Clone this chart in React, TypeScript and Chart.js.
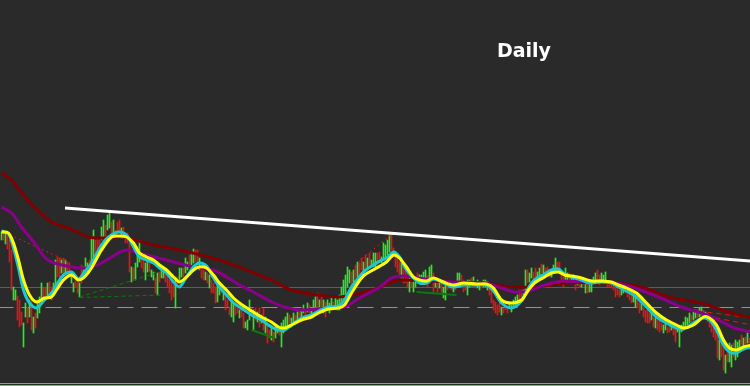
import React, { useEffect, useRef } from "react";
import { Chart, registerables } from "chart.js";

Chart.register(...registerables);

// Price-like units: the value axis is flipped, so a larger number sits lower on the chart.
const TITLE = "Daily";

// Daily bars: high (upper end) and low (lower end), 1 = up bar, 0 = down bar
const highs: number[] = [
  232,231,233,233,240,250,287,290,296,300,312,323,303,307,300,300,317,313,300,297,
  283,288,287,283,282,288,283,260,257,258,260,258,260,262,263,273,283,277,280,283,
  265,267,258,263,260,237,230,240,238,240,227,220,225,215,213,222,220,230,222,220,
  228,227,233,
  233,243,267,268,263,247,242,253,258,263,258,263,270,272,278,273,272,270,268,272,
  273,280,282,285,277,277,268,268,268,258,262,255,252,249,250,250,258,265,267,272,
  273,275,280,283,287,285,287,287,290,295,300,307,300,303,300,307,310,308,313,322,
  320,
  300,308,310,308,312,308,315,308,317,325,330,325,332,327,325,327,323,320,317,313,
  315,318,313,315,312,310,310,305,310,303,305,308,300,297,293,300,297,300,302,300,
  303,298,302,297,300,295,287,280,275,267,270,272,270,265,262,263,258,262,255,258,
  253,260,253,
  253,253,252,257,243,245,240,235,233,248,253,258,262,263,267,270,273,278,277,282,
  280,273,275,275,272,270,275,267,265,273,280,278,280,280,287,283,282,282,283,287,
  282,273,273,275,280,283,280,280,278,277,282,280,282,282,280,280,282,285,290,300,
  302,305,303,
  307,308,305,307,303,305,300,297,295,290,290,290,270,270,273,268,272,268,272,268,
  264,265,268,267,270,270,265,258,262,262,272,277,268,273,273,275,275,280,277,278,
  280,278,280,283,285,283,277,273,270,275,273,275,272,282,282,283,285,287,287,290,
  290,288,287,
  288,290,292,293,297,298,300,303,307,310,310,313,313,317,318,320,320,323,325,323,
  327,325,323,325,327,325,330,325,322,317,318,313,315,312,310,310,308,307,310,312,
  313,315,317,323,325,332,340,340,343,355,348,343,345,343,340,342,340,335,338,337,
  333,338,
];

const lows: number[] = [
  240,240,244,249,262,290,300,300,320,327,325,347,317,323,317,330,333,328,318,313,
  300,298,300,297,297,300,293,287,277,277,273,277,273,275,277,283,292,287,293,297,
  283,277,277,273,267,267,257,258,250,253,240,237,238,230,228,237,233,237,233,233,
  238,238,243,
  243,272,282,280,280,267,262,268,272,280,272,272,277,280,293,295,282,278,278,282,
  287,293,300,297,308,287,280,277,277,273,270,267,265,263,262,265,270,278,280,280,
  283,288,293,293,303,302,295,293,300,310,307,315,317,322,315,313,318,317,328,328,
  330,
  320,317,330,320,322,327,323,330,333,343,338,340,342,338,333,335,347,333,327,327,
  323,327,322,323,320,317,318,313,320,312,313,317,310,307,307,310,307,313,317,310,
  313,310,310,308,310,310,303,300,295,287,283,287,282,278,277,275,270,272,268,268,
  265,267,267,
  267,265,263,263,260,257,255,252,250,257,267,272,275,278,283,283,288,292,287,292,
  287,283,283,282,282,280,287,283,277,292,287,292,288,292,298,300,290,288,290,292,
  290,283,287,283,292,290,295,287,285,285,288,288,290,288,287,287,290,295,303,310,
  313,315,312,
  315,313,310,313,308,312,307,305,302,300,298,297,293,283,282,278,282,277,278,275,
  273,273,275,273,277,277,273,272,268,273,282,287,280,283,280,282,282,290,285,287,
  287,285,293,293,292,292,283,282,283,285,280,282,280,287,287,288,290,297,295,297,
  295,293,293,
  297,300,303,302,307,308,313,310,317,322,323,323,320,327,328,330,332,330,333,330,
  333,332,330,335,342,332,347,332,328,327,325,323,322,320,318,318,317,315,317,318,
  322,327,332,337,340,358,360,357,370,373,362,362,367,357,360,357,352,345,350,348,
  343,348,
];

const ups: number[] = [
  1,0,1,0,0,0,1,1,0,0, 0,1,1,0,1,0,1,0,1,1, 1,0,0,1,0,0,1,1,0,0, 1,0,1,0,0,1,1,0,0,1,
  0,1,1,1,0,1,1,0,0,0, 1,1,0,1,1,0,1,0,0,0, 1,0,0,
  0,0,1,0,1,1,1,0,0,1, 1,0,1,1,0,1,0,1,1,0, 0,0,0,0,1,0,1,1,0,1, 1,0,1,1,0,0,1,0,0,1,
  0,1,0,0,0,1,1,0,1,0, 0,0,1,1,0,0,1,0,0,1, 1,
  1,0,1,0,1,0,1,0,1,0, 0,1,0,1,1,0,1,1,1,1, 0,1,1,0,1,0,1,1,0,1, 0,1,1,1,0,1,0,1,0,1,
  1,1,0,1,1,1,1,1,1,1, 1,0,1,0,1,0,0,1,0,1, 0,1,1,
  1,0,0,1,1,1,1,1,0,0, 0,0,0,1,0,0,0,1,0,1, 1,0,1,1,1,1,0,1,1,0, 1,0,1,0,1,1,0,1,0,1,
  0,1,1,0,0,0,1,1,0,1, 0,1,1,0,1,1,1,0,0,0, 0,0,0,
  1,0,0,0,1,1,1,1,1,0, 0,1,1,0,1,1,0,0,1,1, 0,1,0,0,0,1,1,1,0,0, 0,0,1,1,0,1,1,0,1,0,
  1,0,1,0,1,1,1,1,0,0, 1,1,1,0,0,0,0,0,0,0, 1,1,0,
  0,0,0,1,1,0,0,1,0,0, 0,0,1,0,1,0,0,0,1,1, 0,0,1,0,0,1,1,1,1,1, 1,1,0,1,1,0,1,1,0,1,
  0,0,0,0,0,0,1,0,0,1, 0,1,1,0,1,1,1,0,1,0, 1,0,
];

// Moving averages: [bar index, value]
const maYellow: [number, number][] = [
  [0,232],[3.5,233],[6,243],[8.5,260],[11,280],[14,295],[17.5,302],[21.5,298],[25,297],[27.5,290],
  [31,280],[35,275],[38.5,280],[41.5,277],[45,268],[50,250],[55,237],[58.5,236],[62.5,237],[66,243],
  [69,253],[72.5,257],[76,260],[79,265],[82.5,270],[86,277],[89,282],[92.5,277],[96,270],[99,267],
  [102.5,268],[106,275],[109,283],[112.5,290],[116,298],[119,303],[125,311],[130,317],[135,322],[138.5,327],
  [141.5,328],[145,325],[150,320],[155,317],[158.5,313],[163.5,309],[168.5,308],[171.5,305],[175,293],[178.5,282],
  [181.5,275],[187.5,268],[192.5,262],[196,255],[199,258],[202.5,267],[206,277],[209,280],[212.5,281],[216,278],
  [221,282],[226,285],[231,283],[237.5,284],[242.5,284],[246,288],[250,300],[255,303],[260,300],[263.5,290],
  [266.5,283],[271.5,277],[275,273],[278.5,272],[281.5,275],[285,276],[290,278],[295,281],[300,281],[305,282],
  [308.5,285],[312.5,288],[317.5,293],[322.5,303],[327.5,313],[332.5,320],[337.5,325],[341,328],[346,325],[351,317],
  [354,318],[357.5,325],[361,340],[364,348],[367.5,350],[371,347],[375,345],
];

const maCyan: [number, number][] = [
  [0,231],[3.5,234],[6,248],[8.5,268],[11,290],[14,303],[17.5,308],[21.5,300],[25,293],[27.5,285],
  [31,275],[35,272],[38.5,279],[41.5,272],[45,263],[50,245],[53.5,237],[58.5,232],[62.5,235],[66,247],
  [69,257],[72.5,260],[76,263],[79,268],[82.5,273],[86,282],[89,287],[92.5,277],[96,267],[99,263],
  [102.5,266],[106,278],[109,287],[112.5,295],[116,303],[119,307],[125,315],[130,320],[135,327],[138.5,330],
  [141.5,330],[145,325],[150,318],[155,315],[158.5,311],[163.5,307],[168.5,306],[171.5,300],[175,287],[178.5,278],
  [181.5,271],[187.5,263],[192.5,258],[196,252],[199,257],[202.5,270],[206,278],[209,283],[212.5,283],[216,279],
  [221,283],[226,287],[231,285],[237.5,285],[242.5,285],[246,291],[250,303],[255,308],[260,301],[263.5,288],
  [266.5,280],[271.5,274],[275,270],[278.5,269],[281.5,274],[285,277],[290,280],[293.5,283],[300,282],[305,283],
  [308.5,287],[312.5,291],[317.5,297],[322.5,307],[327.5,317],[332.5,323],[337.5,328],[341,329],[346,323],[351,318],
  [354,320],[357.5,330],[361,345],[364,352],[367.5,353],[371,349],[375,347],
];

const maPurple: [number, number][] = [
  [0,207],[5,213],[10,227],[16.5,243],[21.5,257],[25,262],[35,267],[43.5,268],[50,263],[58.5,253],
  [62.5,250],[72.5,255],[82.5,260],[96,267],[106,270],[112.5,277],[119,285],[125,291],[135,302],[141.5,307],
  [150,310],[163.5,308],[171.5,307],[180,297],[188.5,288],[195,278],[201.5,276],[211.5,279],[225,282],[241.5,283],
  [250,288],[256.5,292],[263.5,291],[271.5,285],[280,281],[291.5,282],[305,282],[316.5,288],[328.5,297],[340,307],
  [350,313],[358.5,320],[366.5,328],[375,332],
];

const maDarkRed: [number, number][] = [
  [0,173],[5,180],[10,193],[16.5,207],[25,222],[33.5,228],[43.5,237],[50,238],[61.5,237],[70,242],
  [83.5,248],[93.5,252],[103.5,257],[113.5,263],[125,272],[135,280],[145,290],[158.5,295],[168.5,297],[180,293],
  [188.5,288],[195,282],[201.5,280],[225,282],[241.5,283],[250,286],[266.5,287],[283.5,283],[305,283],[320,287],
  [333.5,297],[350,303],[363.5,312],[375,318],
];

// Trend line and horizontal levels
const trendLine: [number, number][] = [[31.75, 208], [375, 261]];
const levelGray = 287.5;
const levelCyanDashed = 307.5;
const levelsGreen: number[] = [383.5, 385.5];

// Small drawn objects: [x1, y1, x2, y2]
const greenDashSegs: number[][] = [[39, 297, 79, 272], [39, 297.5, 80, 295]];
const greenSolidSegs: number[][] = [[125, 330, 136.5, 338], [207.5, 292, 227.5, 295]];
const redDotSegs: number[][] = [[6.5, 237, 34, 262], [178.5, 262, 194.5, 235]];
const redDashSegs: number[][] = [[348.5, 311, 375, 318], [352.5, 316, 375, 325]];

const BG = "#2a2a2a";
const UP = "#22ee22";
const DOWN = "#ee1111";

export default function App() {
  const ref = useRef<HTMLCanvasElement>(null);

  useEffect(() => {
    document.body.style.margin = "0";
    const canvas = ref.current;
    if (!canvas) return;

    const line = (
      pts: number[][],
      color: string,
      width: number,
      order: number,
      dash: number[] = [],
      tension = 0
    ): any => ({
      type: "line",
      data: pts.map(([x, y]) => ({ x, y })),
      borderColor: color,
      backgroundColor: color,
      borderWidth: width,
      borderDash: dash,
      pointRadius: 0,
      tension,
      fill: false,
      order,
      borderCapStyle: "butt",
    });

    const segs = (list: number[][], color: string, width: number, order: number, dash: number[] = []) =>
      list.map((s) => line([[s[0], s[1]], [s[2], s[3]]], color, width, order, dash));

    const hline = (y: number, color: string, width: number, order: number, dash: number[] = []) =>
      line([[-2, y], [378, y]], color, width, order, dash);

    const bgPlugin = {
      id: "bg",
      beforeDraw(chart: any) {
        const { ctx, width, height } = chart;
        ctx.save();
        ctx.fillStyle = BG;
        ctx.fillRect(0, 0, width, height);
        ctx.restore();
      },
    };

    const titlePlugin = {
      id: "titleText",
      afterDraw(chart: any) {
        const { ctx } = chart;
        ctx.save();
        ctx.font = 'bold 19px "DejaVu Sans", sans-serif';
        ctx.fillStyle = "#ffffff";
        ctx.textAlign = "center";
        ctx.textBaseline = "alphabetic";
        ctx.fillText(TITLE, 524, 57);
        ctx.restore();
      },
    };

    const chart = new Chart(canvas, {
      type: "bar",
      data: {
        datasets: [
          line(trendLine, "#ffffff", 3, 0),
          line(maYellow, "#ffff00", 3, 1, [], 0.3),
          line(maCyan, "#1ec8d2", 3, 2, [], 0.3),
          line(maPurple, "#8b008b", 3, 3, [], 0.3),
          line(maDarkRed, "#800000", 3, 4, [], 0.3),
          ...segs(greenDashSegs, "#0a7a0a", 1, 5, [4, 3]),
          ...segs(greenSolidSegs, "#0a7a0a", 2, 5),
          ...segs(redDotSegs, "#ee1111", 1, 5, [2, 3]),
          ...segs(redDashSegs, "#ee1111", 1, 5, [5, 4]),
          {
            type: "bar",
            data: highs.map((h, i) => ({ x: i, y: [h, lows[i]] })),
            backgroundColor: ups.map((u) => (u ? UP : DOWN)),
            borderWidth: 0,
            barThickness: 1,
            order: 6,
          } as any,
          hline(levelGray, "#5c5c5c", 1, 7),
          hline(levelCyanDashed, "#20c0d0", 1, 7, [16, 8]),
          ...levelsGreen.map((y) => hline(y, "#33dd33", 1, 7)),
        ],
      },
      options: {
        responsive: false,
        animation: false,
        devicePixelRatio: 1,
        events: [],
        layout: { padding: 0 },
        plugins: {
          legend: { display: false },
          tooltip: { enabled: false },
          title: { display: false },
        },
        scales: {
          x: {
            type: "linear",
            min: -0.75,
            max: 374.25,
            offset: false,
            display: false,
            grid: { display: false },
          },
          y: {
            type: "linear",
            reverse: true,
            min: 0,
            max: 386,
            display: false,
            grid: { display: false },
          },
        },
      } as any,
      plugins: [bgPlugin, titlePlugin],
    });

    return () => chart.destroy();
  }, []);

  return (
    <div style={{ width: 750, height: 386 }}>
      <canvas ref={ref} width={750} height={386} style={{ display: "block" }} />
    </div>
  );
}
